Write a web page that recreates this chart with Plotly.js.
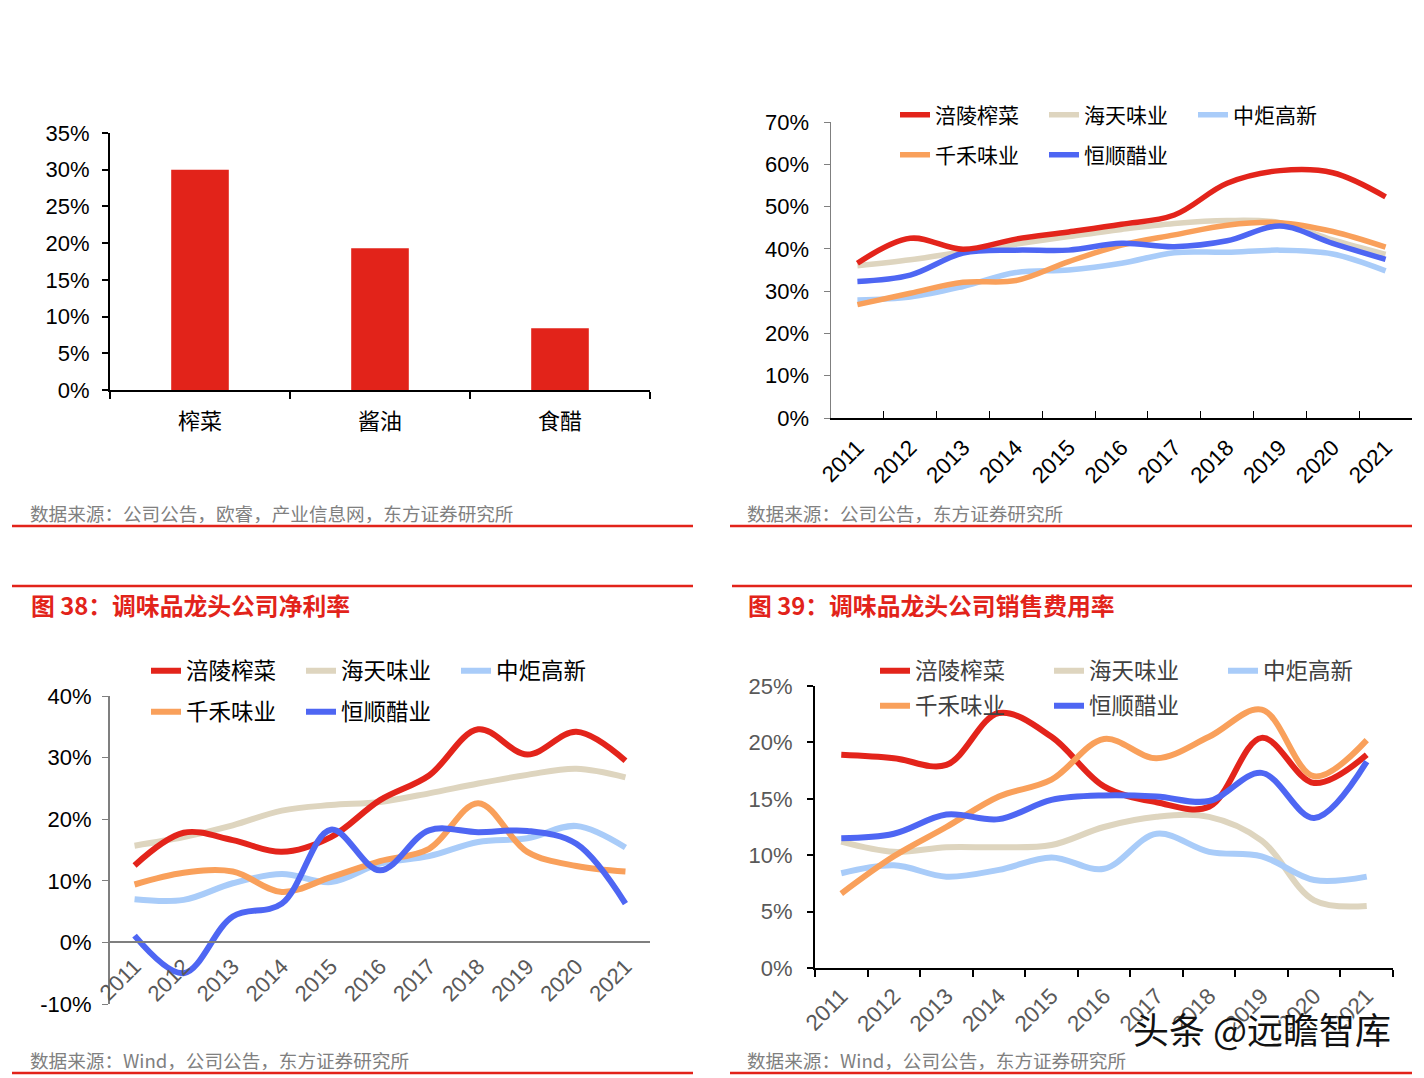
<!DOCTYPE html>
<html><head><meta charset="utf-8">
<script src="https://cdn.plot.ly/plotly-3.0.1.min.js"></script>
<style>html,body{margin:0;padding:0;background:#fff;}#chart{width:1424px;height:1078px;}</style>
</head><body><div id="chart"></div>
<script>
// ---------- data ----------
const barCategories = ['榨菜', '酱油', '食醋'];
const barValues = [30.0, 19.3, 8.4];

const years = ['2011','2012','2013','2014','2015','2016','2017','2018','2019','2020','2021'];
const companyNames = ['涪陵榨菜', '海天味业', '中炬高新', '千禾味业', '恒顺醋业'];

// gross margin (top right)
const grossFuling   = [36.6, 42.5, 39.9, 42.3, 44.0, 45.8, 48.0, 55.5, 58.5, 58.0, 52.3];
const grossHaitian  = [36.0, 37.4, 39.3, 41.1, 42.9, 44.6, 46.0, 46.7, 46.2, 42.1, 38.7];
const grossZhongju  = [27.9, 28.6, 31.1, 34.4, 35.0, 36.6, 39.1, 39.2, 39.7, 38.8, 34.8];
const grossQianhe   = [26.8, 29.5, 32.1, 32.5, 37.0, 40.9, 43.3, 45.6, 46.2, 44.1, 40.4];
const grossHengshun = [32.3, 33.8, 39.0, 39.7, 39.7, 41.3, 40.5, 41.9, 45.4, 41.3, 37.5];

// net margin (fig 38)
const netFuling   = [12.5, 17.8, 16.6, 14.7, 17.1, 23.1, 27.1, 34.6, 30.5, 34.2, 29.5];
const netHaitian  = [15.7, 17.1, 19.0, 21.4, 22.3, 22.8, 24.2, 25.8, 27.2, 28.2, 26.8];
const netZhongju  = [7.0, 6.9, 9.6, 11.1, 9.8, 12.8, 14.0, 16.3, 16.9, 18.9, 15.4];
const netQianhe   = [9.4, 11.3, 11.5, 8.2, 10.6, 13.2, 15.2, 22.6, 14.7, 12.4, 11.5];
const netHengshun = [1.1, -5.0, 4.2, 6.3, 18.3, 11.7, 18.2, 17.9, 18.1, 16.0, 6.3];

// selling expense ratio (fig 39)
const sellFuling   = [18.9, 18.6, 18.0, 22.6, 20.5, 16.1, 14.7, 14.3, 20.4, 16.4, 18.9];
const sellHaitian  = [11.2, 10.3, 10.7, 10.7, 10.9, 12.5, 13.4, 13.4, 11.3, 6.0, 5.5];
const sellZhongju  = [8.4, 9.1, 8.1, 8.7, 9.8, 8.8, 11.9, 10.3, 9.9, 7.8, 8.1];
const sellQianhe   = [6.6, 9.9, 12.5, 15.2, 16.7, 20.3, 18.6, 20.5, 22.9, 17.0, 20.2];
const sellHengshun = [11.5, 11.9, 13.6, 13.2, 14.9, 15.3, 15.2, 14.8, 17.3, 13.3, 18.3];

const netTickVals = [-10, 0, 10, 20, 30, 40];
const netTickText = ['-10%', '0%', '10%', '20%', '30%', '40%'];

const title38 = '图 38：调味品龙头公司净利率';
const title39 = '图 39：调味品龙头公司销售费用率';
const sourceTL = '数据来源：公司公告，欧睿，产业信息网，东方证券研究所';
const sourceTR = '数据来源：公司公告，东方证券研究所';
const sourceB  = '数据来源：Wind，公司公告，东方证券研究所';
const watermark = '头条 @远瞻智库';

// ---------- styling ----------
const W = 1424, H = 1078;
const px = x => x / W;
const py = y => 1 - y / H;
const LAT = 'Liberation Sans, Arial, Noto Sans CJK SC, sans-serif';
const CJK = 'Noto Sans CJK SC, Liberation Sans, sans-serif';
const RED = '#E2231A';
const colors = ['#E3241B', '#DED5BF', '#A9CCF9', '#F9A05B', '#4E66F3'];
const ranks = [1, 2, 3, 1, 2];

const traces = [];
traces.push({type:'bar', x: barCategories, y: barValues, xaxis:'x', yaxis:'y',
  marker:{color: RED, line:{width:0}}, width:0.32, showlegend:false, hoverinfo:'skip'});

function addLines(seriesList, xa, ya, legendRow1, legendRow2, width, drawOrder) {
  drawOrder.forEach(i => {
    traces.push({type:'scatter', mode:'lines', x: years, y: seriesList[i], xaxis: xa, yaxis: ya,
      name: companyNames[i], line:{color: colors[i], width: width, shape:'spline', smoothing:1},
      legend: i < 3 ? legendRow1 : legendRow2, legendrank: ranks[i], hoverinfo:'skip'});
  });
}
addLines([grossFuling, grossHaitian, grossZhongju, grossQianhe, grossHengshun], 'x2', 'y2', 'legend', 'legend2', 5.5, [2,1,3,4,0]);
addLines([netFuling, netHaitian, netZhongju, netQianhe, netHengshun], 'x3', 'y3', 'legend3', 'legend4', 6, [2,1,0,3,4]);
addLines([sellFuling, sellHaitian, sellZhongju, sellQianhe, sellHengshun], 'x4', 'y4', 'legend5', 'legend6', 6, [1,2,0,3,4]);

function mkLegend(x, y, size, color, ew) {
  return {orientation:'h', x: x, y: y, xanchor:'left', yanchor:'middle',
    font:{family: CJK, size: size, color: color}, bgcolor:'rgba(0,0,0,0)',
    entrywidth: ew, entrywidthmode:'pixels', traceorder:'normal', borderwidth:0};
}

const catAxis = (domain, anchor, extra) => Object.assign({
  domain: domain, anchor: anchor, type:'category', range:[-0.5, 10.5],
  showgrid:false, zeroline:false, showline:true, linecolor:'#000', linewidth:1.5,
  tickangle:-45, tickfont:{family: LAT, size:22.5, color:'#000'}, fixedrange:true
}, extra);

function note(text, x, y, font, xanchor) {
  return {text: text, xref:'paper', yref:'paper', x: px(x), y: py(y), xanchor: xanchor || 'left', yanchor:'middle',
    showarrow:false, font: font};
}

const layout = {
  width: W, height: H, margin:{l:0, r:0, t:0, b:0}, paper_bgcolor:'#fff', plot_bgcolor:'rgba(0,0,0,0)',
  showlegend: true, font:{family: LAT},
  // top-left bar chart
  xaxis: {domain:[px(110), px(650)], anchor:'y', type:'category', range:[-0.5, 2.5],
    showline:true, linecolor:'#000', linewidth:2, ticks:'outside', tickson:'boundaries', ticklen:7,
    tickcolor:'#000', tickwidth:2, showgrid:false, tickfont:{family: CJK, size:22, color:'#000'}, ticklabelstandoff:11},
  yaxis: {domain:[py(390), py(133)], anchor:'x', range:[0, 35], dtick:5, ticksuffix:'%',
    showline:true, linecolor:'#000', linewidth:2, ticks:'outside', ticklen:6, tickcolor:'#000', tickwidth:2,
    showgrid:false, zeroline:false, tickfont:{family: LAT, size:22, color:'#000'}, ticklabelstandoff:8},
  // top-right gross margin
  xaxis2: catAxis([px(831), px(1412)], 'y2', {ticks:'inside', tickson:'boundaries', ticklen:7, tickcolor:'#000', ticklabelstandoff:6}),
  yaxis2: {domain:[py(418), py(122)], anchor:'x2', range:[0, 70], dtick:10, ticksuffix:'%',
    showline:true, linecolor:'#7f7f7f', linewidth:1.5, ticks:'outside', ticklen:6, tickcolor:'#7f7f7f',
    showgrid:false, zeroline:false, tickfont:{family: LAT, size:22, color:'#000'}, ticklabelstandoff:10},
  // bottom-left net margin
  xaxis3: catAxis([px(110), px(650)], 'free', {position: py(942), ticks:'', linecolor:'#7f7f7f', linewidth:2,
    tickfont:{family: LAT, size:22, color:'#595959'}, ticklabelstandoff:2}),
  yaxis3: {domain:[py(1004), py(696)], anchor:'x3', range:[-10, 40], tickmode:'array', tickvals: netTickVals, ticktext: netTickText,
    showline:true, linecolor:'#7f7f7f', linewidth:2, ticks:'outside', ticklen:6, tickcolor:'#7f7f7f',
    showgrid:false, zeroline:false, tickfont:{family: LAT, size:22, color:'#000'}, ticklabelstandoff:6},
  // bottom-right selling expense
  xaxis4: catAxis([px(815), px(1393)], 'y4', {ticks:'outside', tickson:'boundaries', ticklen:7, tickcolor:'#000', tickwidth:2, linewidth:2,
    tickfont:{family: LAT, size:22.5, color:'#595959'}, ticklabelstandoff:4}),
  yaxis4: {domain:[py(968), py(686)], anchor:'x4', range:[0, 25], dtick:5, ticksuffix:'%',
    showline:true, linecolor:'#000', linewidth:2, ticks:'outside', ticklen:6, tickcolor:'#000', tickwidth:2,
    showgrid:false, zeroline:false, tickfont:{family: LAT, size:22, color:'#595959'}, ticklabelstandoff:10},
  legend:  mkLegend(px(895), py(115), 21, '#000', 104),
  legend2: mkLegend(px(895), py(155), 21, '#000', 104),
  legend3: mkLegend(px(146), py(671), 22.5, '#000', 110),
  legend4: mkLegend(px(146), py(712), 22.5, '#000', 110),
  legend5: mkLegend(px(875), py(671), 22.5, '#404040', 129),
  legend6: mkLegend(px(875), py(706), 22.5, '#404040', 129),
  shapes: [
    [12, 693, 526], [730, 1412, 526], [12, 693, 586], [732, 1412, 586], [12, 693, 1073], [730, 1412, 1073]
  ].map(s => ({type:'line', xref:'paper', yref:'paper', x0: px(s[0]), x1: px(s[1]), y0: py(s[2]), y1: py(s[2]),
    line:{color: RED, width:2.5}})),
  annotations: [
    note(title38, 29, 604, {family: CJK, size:23.8, color: RED, weight:700}),
    note(title39, 746, 604, {family: CJK, size:23.8, color: RED, weight:700}),
    note(sourceTL, 28, 512, {family: CJK, size:18.6, color:'#808080'}),
    note(sourceTR, 745, 512, {family: CJK, size:18.6, color:'#808080'}),
    note(sourceB, 28, 1059, {family: CJK, size:18.6, color:'#808080'}),
    note(sourceB, 745, 1059, {family: CJK, size:18.6, color:'#808080'}),
    note(watermark, 1262, 1028, {family: CJK, size:36, color:'#111', shadow:'2px 2px 1px #ffffff'}, 'center')
  ]
};

Plotly.newPlot('chart', traces, layout, {staticPlot:true, displayModeBar:false});
</script></body></html>
